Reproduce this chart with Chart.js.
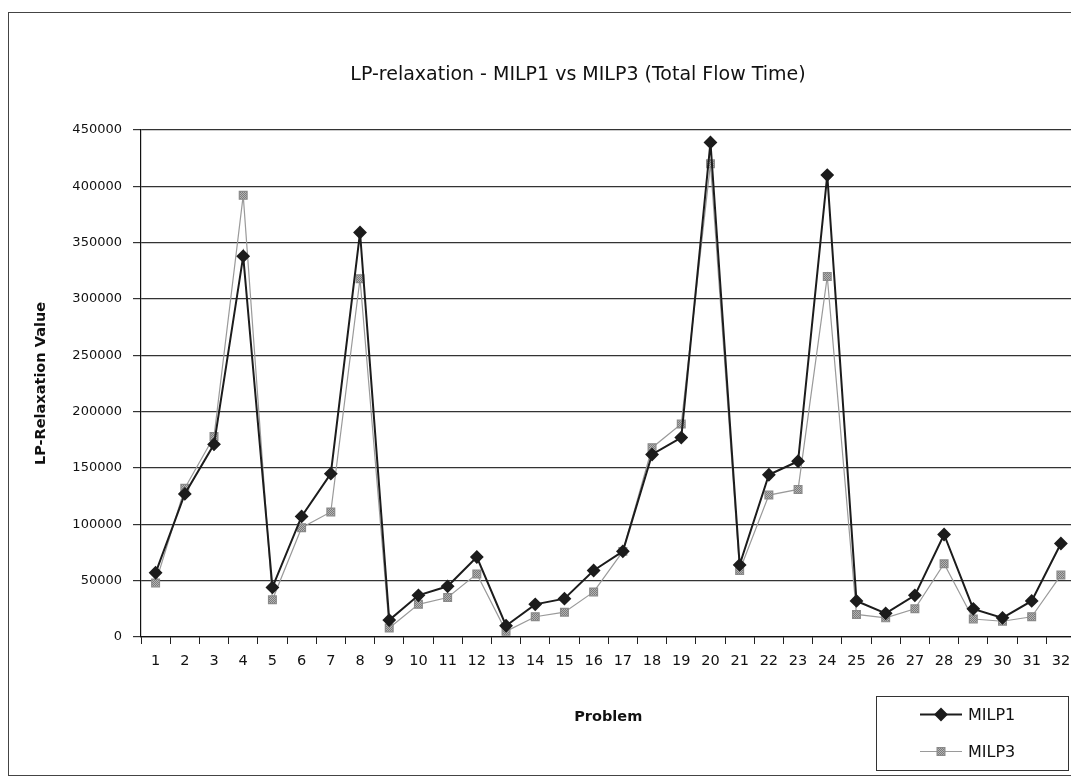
<!DOCTYPE html>
<html>
<head>
<meta charset="utf-8">
<title>LP-relaxation - MILP1 vs MILP3</title>
<script src="https://cdn.jsdelivr.net/npm/chart.js@4.4.1/dist/chart.umd.min.js"></script>
<style>
  html, body { margin: 0; padding: 0; background: #fff; overflow: hidden; }
</style>
</head>
<body>
<canvas id="lpChart" width="1083" height="781"></canvas>
<script>
const problemas = ["1", "2", "3", "4", "5", "6", "7", "8", "9", "10", "11", "12", "13", "14", "15", "16",
  "17", "18", "19", "20", "21", "22", "23", "24", "25", "26", "27", "28", "29", "30", "31", "32"];

const milp1 = [57000, 127000, 171000, 338000, 44000, 107000, 145000, 359000,
  15000, 37000, 45000, 71000, 10000, 29000, 34000, 59000,
  76000, 162000, 177000, 439000, 64000, 144000, 156000, 410000,
  32000, 21000, 37000, 91000, 25000, 17000, 32000, 83000];

const milp3 = [48000, 132000, 178000, 392000, 33000, 97000, 111000, 318000,
  8000, 29000, 35000, 56000, 5000, 18000, 22000, 40000,
  76000, 168000, 189000, 420000, 59000, 126000, 131000, 320000,
  20000, 17000, 25000, 65000, 16000, 14000, 18000, 55000];

const yMin = 0;
const yMax = 450000;
const yStep = 50000;

const titulo = "LP-relaxation - MILP1 vs MILP3 (Total Flow Time)";

const FONT = "'DejaVu Sans', Tahoma, Verdana, sans-serif";

// padrão quadriculado cinza para os marcadores do MILP3
function hatchPattern() {
  const c = document.createElement("canvas");
  c.width = 2;
  c.height = 2;
  const g = c.getContext("2d");
  g.fillStyle = "#b4b4b4";
  g.fillRect(0, 0, 2, 2);
  g.fillStyle = "#7a7a7a";
  g.fillRect(0, 0, 1, 1);
  g.fillRect(1, 1, 1, 1);
  return g.createPattern(c, "repeat");
}

// moldura externa e título do gráfico
const moldura = {
  id: "moldura",
  beforeDraw(chart) {
    const { ctx, width, height } = chart;
    ctx.save();
    ctx.fillStyle = "#fff";
    ctx.fillRect(0, 0, width, height);
    ctx.strokeStyle = "#444";
    ctx.lineWidth = 1;
    ctx.strokeRect(8.5, 12.5, width + 10, 763);
    ctx.fillStyle = "#111";
    ctx.font = "19px " + FONT;
    ctx.textAlign = "center";
    ctx.textBaseline = "middle";
    ctx.fillText(titulo, 578, 75);
    ctx.restore();
  },
};

// legenda em caixa no canto inferior direito
const legendaCaixa = {
  id: "legendaCaixa",
  afterDraw(chart) {
    const { ctx } = chart;
    const box = { x: 876.5, y: 696.5, w: 192, h: 74 };
    ctx.save();
    ctx.strokeStyle = "#333";
    ctx.lineWidth = 1;
    ctx.strokeRect(box.x, box.y, box.w, box.h);
    ctx.font = "16px " + FONT;
    ctx.textBaseline = "middle";
    chart.data.datasets.forEach((ds, i) => {
      const y = box.y + 18 + i * 37;
      const x0 = 920;
      const x1 = 962;
      ctx.strokeStyle = ds.borderColor;
      ctx.lineWidth = ds.borderWidth;
      ctx.beginPath();
      ctx.moveTo(x0, y);
      ctx.lineTo(x1, y);
      ctx.stroke();
      ctx.fillStyle = ds.pointBackgroundColor;
      ctx.strokeStyle = ds.pointBorderColor;
      Chart.helpers.drawPoint(ctx, {
        pointStyle: ds.pointStyle,
        radius: ds.pointRadius,
        rotation: 0,
        borderWidth: 1,
      }, (x0 + x1) / 2, y);
      ctx.fillStyle = "#111";
      ctx.fillText(ds.label, 968, y + 1);
    });
    ctx.restore();
  },
};

const ctx = document.getElementById("lpChart").getContext("2d");

new Chart(ctx, {
  type: "line",
  data: {
    labels: problemas,
    datasets: [
      {
        label: "MILP1",
        data: milp1,
        borderColor: "#1c1c1c",
        borderWidth: 2,
        pointStyle: "rectRot",
        pointRadius: 5.5,
        pointBackgroundColor: "#1c1c1c",
        pointBorderColor: "#1c1c1c",
        tension: 0,
      },
      {
        label: "MILP3",
        data: milp3,
        borderColor: "#9a9a9a",
        borderWidth: 1.2,
        pointStyle: "rect",
        pointRadius: 5.5,
        pointBackgroundColor: hatchPattern(),
        pointBorderColor: "#8a8a8a",
        tension: 0,
      },
    ],
  },
  options: {
    responsive: false,
    animation: false,
    layout: { padding: { left: 0, right: 1, top: 130, bottom: 0 } },
    plugins: {
      legend: { display: false },
      tooltip: { enabled: false },
      title: { display: false },
    },
    scales: {
      x: {
        offset: true,
        grid: {
          offset: true,
          drawOnChartArea: false,
          drawTicks: true,
          tickLength: 7,
          color: "#222",
        },
        border: { color: "#111", width: 1.2 },
        ticks: {
          color: "#111",
          font: { family: FONT, size: 14.5 },
          padding: 9,
          maxRotation: 0,
          autoSkip: false,
        },
        title: {
          display: true,
          text: "Problem",
          color: "#111",
          font: { family: FONT, size: 14.5, weight: "bold" },
          padding: { top: 4, bottom: 55 },
        },
        afterFit(scale) {
          scale.height = 144;
        },
      },
      y: {
        min: yMin,
        max: yMax,
        ticks: {
          stepSize: yStep,
          color: "#111",
          font: { family: FONT, size: 13 },
          padding: 11,
          callback: (v) => String(v),
        },
        grid: {
          color: "#333",
          lineWidth: 1.2,
          tickLength: 8,
        },
        border: { color: "#111", width: 1.2 },
        title: {
          display: true,
          text: "LP-Relaxation Value",
          color: "#111",
          font: { family: FONT, size: 14.5, weight: "bold" },
          padding: { top: 33, bottom: 4 },
        },
        afterFit(scale) {
          scale.width = 141;
        },
      },
    },
  },
  plugins: [moldura, legendaCaixa],
});
</script>
</body>
</html>
